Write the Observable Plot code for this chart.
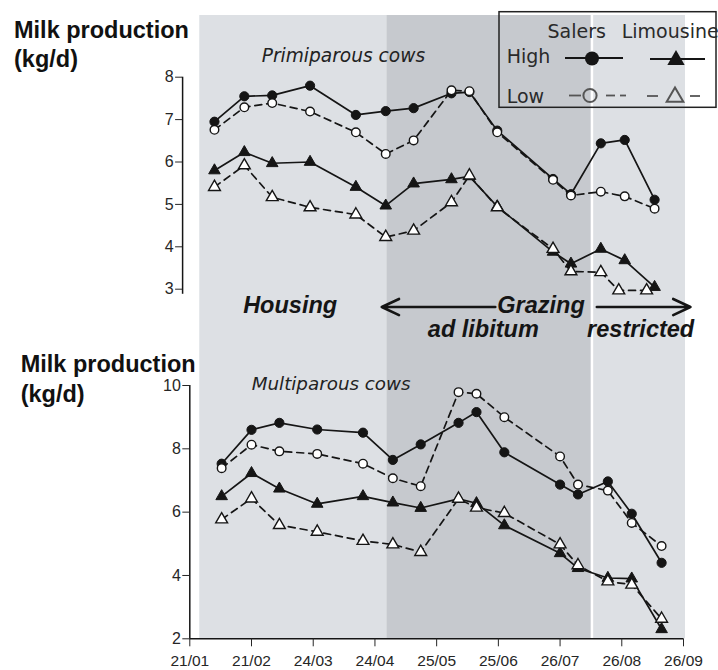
<!DOCTYPE html>
<html><head><meta charset="utf-8">
<script src="https://cdn.jsdelivr.net/npm/d3@7"></script>
<script src="https://cdn.jsdelivr.net/npm/@observablehq/plot@0.6"></script>
<style>
body{margin:0;background:#fff;}
#wrap{position:relative;width:718px;height:670px;overflow:hidden;background:#fff;}
#wrap > svg{position:absolute;left:0;top:0;}
</style></head><body><div id="wrap"></div>
<script>
// ---------- data ----------
const sampleDates = ["2007-02-06","2007-02-21","2007-03-07","2007-03-26","2007-04-18","2007-05-03","2007-05-17","2007-06-05","2007-06-14","2007-06-28","2007-07-26","2007-08-04","2007-08-19","2007-08-31","2007-09-15"];
const limLowPrimiDates = ["2007-02-06","2007-02-21","2007-03-07","2007-03-26","2007-04-18","2007-05-03","2007-05-17","2007-06-05","2007-06-14","2007-06-28","2007-07-26","2007-08-04","2007-08-19","2007-08-28","2007-09-11"];
const tickDates = ["2007-01-21","2007-02-21","2007-03-24","2007-04-24","2007-05-25","2007-06-25","2007-07-26","2007-08-26","2007-09-26"];

// Primiparous cows (kg/d)
const salersHighPrimi = [6.95,7.55,7.57,7.80,7.11,7.20,7.27,7.62,7.65,6.74,5.60,5.24,6.44,6.52,5.11];
const salersLowPrimi  = [6.76,7.29,7.39,7.19,6.70,6.19,6.51,7.69,7.67,6.70,5.58,5.21,5.30,5.19,4.90];
const limHighPrimi    = [5.80,6.23,5.97,6.00,5.41,4.97,5.49,5.59,5.66,4.95,3.88,3.60,3.95,3.68,3.05];
const limLowPrimi     = [5.41,5.92,5.17,4.93,4.76,4.23,4.38,5.05,5.68,4.93,3.95,3.42,3.40,2.97,2.97];
// Multiparous cows (kg/d)
const salersHighMulti = [7.53,8.60,8.82,8.61,8.51,7.65,8.14,8.82,9.16,7.89,6.87,6.56,6.97,5.95,4.40];
const salersLowMulti  = [7.39,8.13,7.92,7.84,7.53,7.07,6.82,9.79,9.74,9.00,7.76,6.87,6.68,5.66,4.93];
const limHighMulti    = [6.50,7.23,6.74,6.26,6.50,6.30,6.13,6.42,6.28,5.58,4.70,4.23,3.92,3.90,2.30];
const limLowMulti     = [5.77,6.43,5.59,5.38,5.09,4.98,4.74,6.42,6.14,5.97,4.98,4.32,3.81,3.71,2.63];

const primiTicks = [3,4,5,6,7,8];
const multiTicks = [2,4,6,8,10];

// periods (background bands)
const periodKind  = ["housing","adlib","restricted"];
const periodStart = ["2007-01-26","2007-04-30","2007-08-11"];
const periodEnd   = ["2007-04-30","2007-08-11","2007-09-27"];

// period annotations
const phaseLabels     = ["Housing","Grazing","ad libitum","restricted"];
const phaseLabelDates = ["2007-03-16","2007-07-20","2007-06-21","2007-09-08"];
const phaseLabelY     = [2.615,2.615,2.05,2.05];
const arrowFrom = ["2007-06-27","2007-08-17"];
const arrowTo   = ["2007-05-01","2007-10-03"];
const arrowY    = [2.58,2.58];

const breeds = ["Salers","Limousine"];
const levels = ["High","Low"];
const panelTitles = ["Primiparous cows","Multiparous cows"];
const yTitle = ["Milk production","(kg/d)"];

// ---------- helpers ----------
const parse = d3.utcParse("%Y-%m-%d");
const xDomain = [parse(tickDates[0]), parse(tickDates[tickDates.length-1])];
const rows = (dates, vals) => vals.map((v,i)=>({date: parse(dates[i]), value: v}));
const W = 718, H = 670;
const INK = "#151515";
const wrap = document.getElementById("wrap");

function seriesMarks(list){
  const m = [];
  for (const s of list) m.push(Plot.line(s.rows,{x:"date",y:"value",stroke:INK,strokeWidth:1.7,strokeDasharray:s.open?"7,5":undefined}));
  for (const s of list.filter(s=>!s.open)) m.push(Plot.dot(s.rows,{x:"date",y:"value",symbol:s.symbol,r:s.symbol==="circle"?4.6:4.3,fill:INK,stroke:INK,strokeWidth:1}));
  for (const s of list.filter(s=>s.open)) m.push(Plot.dot(s.rows,{x:"date",y:"value",symbol:s.symbol,r:s.symbol==="circle"?4.3:4.4,fill:"white",stroke:INK,strokeWidth:1.4}));
  return m;
}

// ---------- background bands ----------
const periods = periodKind.map((k,i)=>({kind:k,start:parse(periodStart[i]),end:parse(periodEnd[i])}));
const bg = Plot.plot({
  width:W,height:H,marginLeft:189.3,marginRight:35,marginTop:15,marginBottom:31.7,
  x:{type:"utc",domain:xDomain,axis:null},
  color:{domain:periodKind,range:["#dde0e4","#c6c9ce","#dde0e4"]},
  style:{background:"white"},
  marks:[
    Plot.rect(periods,{x1:"start",x2:"end",fill:"kind"}),
    Plot.ruleX([periods[2].start],{stroke:"white",strokeWidth:2.5})
  ]
});
wrap.appendChild(bg);

// ---------- multiparous (bottom) ----------
const multi = Plot.plot({
  width:W,height:H,marginLeft:189.3,marginRight:35,marginTop:385,marginBottom:31.7,
  x:{type:"utc",domain:xDomain},
  y:{domain:[2,10]},
  style:{background:"transparent",fontFamily:"'Liberation Sans', Arial, sans-serif",fontSize:"16px",overflow:"visible"},
  marks:[
    Plot.ruleX([xDomain[0]],{y1:2,y2:10,stroke:INK,strokeWidth:1.5}),
    Plot.ruleY([2],{x1:xDomain[0],x2:xDomain[1],stroke:INK,strokeWidth:1.5}),
    Plot.axisY(multiTicks,{tickSize:7,tickPadding:2,fontSize:16,color:"#262626",label:null}),
    Plot.axisX(tickDates.map(parse),{tickSize:8,tickPadding:8,fontSize:15.5,color:"#262626",tickFormat:d3.utcFormat("%d/%m"),label:null}),
    ...seriesMarks([
      {rows:rows(sampleDates,limHighMulti),symbol:"triangle",open:false},
      {rows:rows(sampleDates,limLowMulti),symbol:"triangle",open:true},
      {rows:rows(sampleDates,salersHighMulti),symbol:"circle",open:false},
      {rows:rows(sampleDates,salersLowMulti),symbol:"circle",open:true}
    ])
  ]
});
wrap.appendChild(multi);

// ---------- primiparous (top) ----------
const labels = phaseLabels.map((t,i)=>({t,date:parse(phaseLabelDates[i]),y:phaseLabelY[i]}));
const arrows = arrowFrom.map((f,i)=>({x1:parse(f),x2:parse(arrowTo[i]),y:arrowY[i]}));
const primi = Plot.plot({
  width:W,height:H,marginLeft:182.1,marginRight:42,marginTop:76.7,marginBottom:381.3,
  x:{type:"utc",domain:xDomain,axis:null},
  y:{domain:[3,8]},
  style:{background:"transparent",fontFamily:"'Liberation Sans', Arial, sans-serif",fontSize:"16px",overflow:"visible"},
  marks:[
    Plot.ruleX([xDomain[0]],{y1:2.88,y2:8,stroke:INK,strokeWidth:1.5}),
    Plot.axisY(primiTicks,{tickSize:7,tickPadding:2,fontSize:16,color:"#262626",label:null}),
    ...seriesMarks([
      {rows:rows(sampleDates,limHighPrimi),symbol:"triangle",open:false},
      {rows:rows(limLowPrimiDates,limLowPrimi),symbol:"triangle",open:true},
      {rows:rows(sampleDates,salersHighPrimi),symbol:"circle",open:false},
      {rows:rows(sampleDates,salersLowPrimi),symbol:"circle",open:true}
    ]),
    Plot.arrow(arrows,{x1:"x1",x2:"x2",y1:"y",y2:"y",stroke:INK,strokeWidth:2.6,headLength:11,headAngle:50}),
    Plot.text(labels,{x:"date",y:"y",text:"t",fontSize:23.5,fontWeight:"bold",fontStyle:"italic",fill:INK,fontFamily:"'Liberation Sans', Arial, sans-serif",lineAnchor:"middle",textAnchor:"middle"})
  ]
});
wrap.appendChild(primi);

// ---------- titles & legend overlay ----------
const svg = d3.select(wrap).append("svg").attr("width",W).attr("height",H);
const bold = "'Liberation Sans', Arial, sans-serif";
const dv = "'DejaVu Sans', Verdana, sans-serif";
[[14,38.3],[14,66.7]].forEach(([x,y],i)=>svg.append("text").attr("x",x).attr("y",y).attr("font-family",bold).attr("font-weight","bold").attr("font-size",23.5).attr("fill","#111").text(yTitle[i]));
[[20.7,372.3],[20.7,401.8]].forEach(([x,y],i)=>svg.append("text").attr("x",x).attr("y",y).attr("font-family",bold).attr("font-weight","bold").attr("font-size",23.5).attr("fill","#111").text(yTitle[i]));
svg.append("text").attr("x",261.7).attr("y",61.7).attr("font-family",dv).attr("font-style","italic").attr("font-size",18.6).attr("fill","#222").text(panelTitles[0]);
svg.append("text").attr("x",251.7).attr("y",390).attr("font-family",dv).attr("font-style","italic").attr("font-size",18.3).attr("fill","#222").text(panelTitles[1]);

// legend
const lg = svg.append("g");
lg.append("rect").attr("x",499).attr("y",11.7).attr("width",217).attr("height",95.6).attr("fill","none").attr("stroke","#222").attr("stroke-width",1.5);
lg.append("text").attr("x",576.7).attr("y",38.3).attr("text-anchor","middle").attr("font-family",dv).attr("font-size",19).attr("fill","#2a2a2a").text(breeds[0]);
lg.append("text").attr("x",621.7).attr("y",38.3).attr("font-family",dv).attr("font-size",19).attr("fill","#2a2a2a").text(breeds[1]);
lg.append("text").attr("x",506.7).attr("y",63.3).attr("font-family",dv).attr("font-size",19).attr("fill","#2a2a2a").text(levels[0]);
lg.append("text").attr("x",506.7).attr("y",102.7).attr("font-family",dv).attr("font-size",19).attr("fill","#2a2a2a").text(levels[1]);
const seg=(x1,x2,y,c,w)=>lg.append("line").attr("x1",x1).attr("x2",x2).attr("y1",y).attr("y2",y).attr("stroke",c).attr("stroke-width",w);
seg(565,623,58,INK,1.8); seg(650,705,59,INK,1.8);
lg.append("circle").attr("cx",592).attr("cy",58.5).attr("r",7).attr("fill",INK);
lg.append("path").attr("d",d3.symbol(d3.symbolTriangle,130)()).attr("transform","translate(676,60)").attr("fill",INK);
seg(569,581,95.5,"#555",1.8); seg(606,615,95.5,"#555",1.8); seg(620,626,95.5,"#555",1.8);
lg.append("circle").attr("cx",590).attr("cy",95.5).attr("r",6.6).attr("fill","none").attr("stroke","#555").attr("stroke-width",2);
seg(647,658,96,"#555",1.8); seg(690,700,96,"#555",1.8);
lg.append("path").attr("d",d3.symbol(d3.symbolTriangle,120)()).attr("transform","translate(675,97)").attr("fill","none").attr("stroke","#555").attr("stroke-width",2);
</script></body></html>
